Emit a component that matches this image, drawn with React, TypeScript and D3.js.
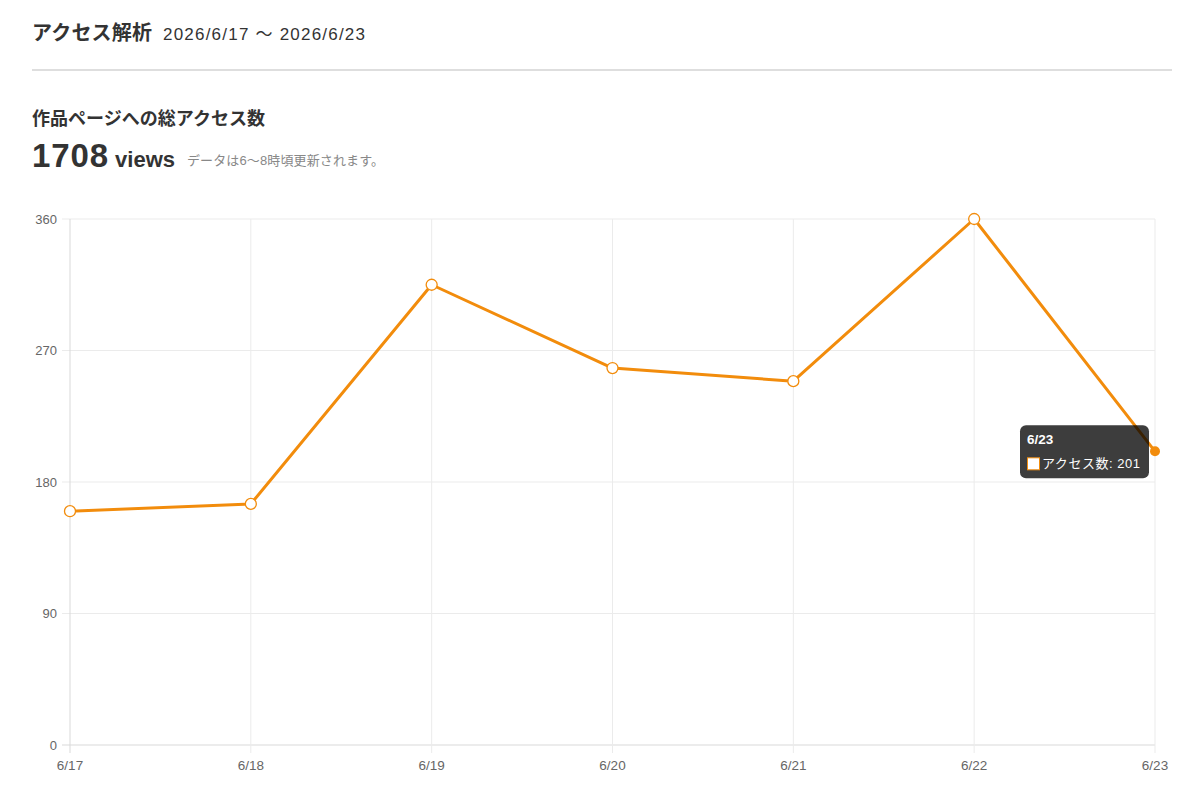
import React from "react";
import * as d3 from "d3";

const categories = ["6/17", "6/18", "6/19", "6/20", "6/21", "6/22", "6/23"];
const accessValues = [160, 165, 315, 258, 249, 360, 201];
const yTicks = [0, 90, 180, 270, 360];
const totalViews = 1708;
const seriesLabel = "アクセス数";
const activeIndex = 6;

const W = 1200;
const H = 806;
const ORANGE = "#f28c0c";
const FONT = "'Liberation Sans', 'Noto Sans CJK JP', sans-serif";

export default function App() {
  const left = 70, right = 1155, top = 219, bottom = 745;
  const x = d3.scalePoint<string>().domain(categories).range([left, right]);
  const y = d3.scaleLinear().domain([0, 360]).range([bottom, top]);
  const line = d3
    .line<number>()
    .x((_, i) => x(categories[i]) as number)
    .y((d) => y(d));

  const ax = x(categories[activeIndex]) as number;
  const ay = y(accessValues[activeIndex]);
  const tipW = 129, tipH = 53;
  const tipX = ax - 6 - tipW;
  const tipY = ay - 26;

  return (
    <svg
      width={W}
      height={H}
      style={{ position: "absolute", left: 0, top: 0, background: "#fff" }}
      fontFamily={FONT}
    >
      {/* header */}
      <text x={32} y={40} fontSize={20} fontWeight="bold" fill="#333" textLength={120} lengthAdjust="spacing">
        アクセス解析
      </text>
      <text x={163} y={40} fontSize={17} fill="#333" textLength={202} lengthAdjust="spacing">
        2026/6/17 〜 2026/6/23
      </text>
      <rect x={32} y={69} width={1140} height={2} fill="#dedede" />
      <text x={32} y={125} fontSize={18} fontWeight="bold" fill="#333" textLength={233} lengthAdjust="spacing">
        作品ページへの総アクセス数
      </text>
      <text x={32} y={167} fontSize={33} fontWeight="bold" fill="#333" textLength={76} lengthAdjust="spacing">
        {totalViews}
      </text>
      <text x={115} y={167} fontSize={22} fontWeight="bold" fill="#333" textLength={60} lengthAdjust="spacing">
        views
      </text>
      <text x={187} y={165} fontSize={13} fill="#888" textLength={197} lengthAdjust="spacing">
        データは6〜8時頃更新されます。
      </text>

      {/* grid */}
      {yTicks.map((t) => (
        <g key={"y" + t}>
          <line
            x1={left - 8}
            x2={right}
            y1={y(t)}
            y2={y(t)}
            stroke={t === 0 ? "#d9d9d9" : "#ebebeb"}
            strokeWidth={1}
          />
          <text
            x={left - 13}
            y={y(t)}
            dy="0.35em"
            textAnchor="end"
            fontSize={13}
            fill="#666"
          >
            {t}
          </text>
        </g>
      ))}
      {categories.map((c, i) => (
        <g key={c}>
          <line
            x1={x(c)}
            x2={x(c)}
            y1={top}
            y2={bottom + 8}
            stroke={i === 0 ? "#d9d9d9" : "#ebebeb"}
            strokeWidth={1}
          />
          <text
            x={x(c)}
            y={770}
            textAnchor="middle"
            fontSize={13.5}
            fill="#666"
          >
            {c}
          </text>
        </g>
      ))}

      {/* line */}
      <path
        d={line(accessValues) || ""}
        fill="none"
        stroke={ORANGE}
        strokeWidth={3}
        strokeLinejoin="round"
      />
      {accessValues.map((v, i) =>
        i === activeIndex ? (
          <circle key={i} cx={x(categories[i])} cy={y(v)} r={5} fill={ORANGE} />
        ) : (
          <circle
            key={i}
            cx={x(categories[i])}
            cy={y(v)}
            r={5.5}
            fill="#fff"
            stroke={ORANGE}
            strokeWidth={1.3}
          />
        )
      )}

      {/* tooltip */}
      <g>
        <rect
          x={tipX}
          y={tipY}
          width={tipW}
          height={tipH}
          rx={6}
          fill="rgba(0,0,0,0.76)"
        />
        <text x={tipX + 7} y={tipY + 19} fontSize={13.5} fontWeight="bold" fill="#fff">
          {categories[activeIndex]}
        </text>
        <rect
          x={tipX + 7.5}
          y={tipY + 32.5}
          width={12}
          height={12}
          fill="#fff"
          stroke={ORANGE}
          strokeWidth={1}
        />
        <text x={tipX + 22} y={tipY + 43} fontSize={13} fill="#fff" textLength={98} lengthAdjust="spacing">
          {seriesLabel}: {accessValues[activeIndex]}
        </text>
      </g>
    </svg>
  );
}
